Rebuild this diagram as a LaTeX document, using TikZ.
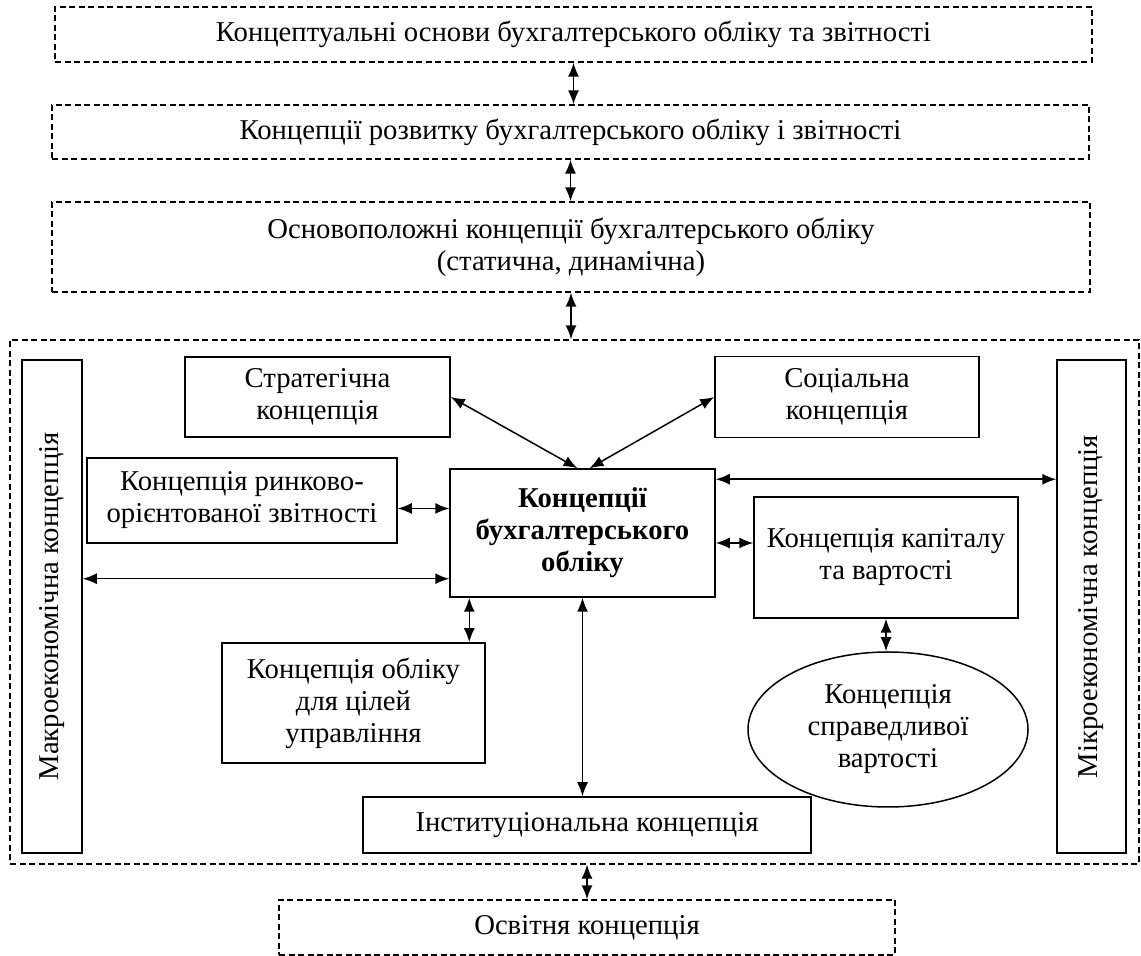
\documentclass[tikz,border=0pt]{standalone}
\usepackage{fontspec}
\setmainfont{Liberation Serif}
\usepackage{graphicx}
\usetikzlibrary{arrows.meta,shapes.geometric}

\begin{document}
\begin{tikzpicture}[x=1pt, y=1pt,
    every node/.style={font=\fontsize{28.7}{32}\selectfont, align=center, inner sep=0pt},
    box/.style={draw, line width=1.5pt},
    dbox/.style={draw, line width=1.3pt, dash pattern=on 6pt off 3.5pt},
    arr/.style={{Latex[length=14pt,width=11pt]}-{Latex[length=14pt,width=11pt]}, line width=1.5pt}]
        \useasboundingbox (0,0) rectangle (1141,956);
        % upper levels
        \node[dbox, minimum width=1037pt, minimum height=55pt] (osnovy) at (573.5,921.5) {Концептуальні основи бухгалтерського обліку та звітності};
        \node[dbox, minimum width=1037pt, minimum height=54pt] (rozvytok) at (570.5,824) {Концепції розвитку бухгалтерського обліку і звітності};
        \node[dbox, minimum width=1038pt, minimum height=90pt] (osnovopol) at (571,709) {Основоположні концепції бухгалтерського обліку\\(статична, динамічна)};
        \node[dbox, minimum width=1129pt, minimum height=524pt] (kompleks) at (574.5,354) {};
        \node[dbox, minimum width=616pt, minimum height=55pt] (osvitnia) at (587,28.5) {Освітня концепція};
        % inner concepts
        \node[box, minimum width=60pt, minimum height=493pt] (makro) at (52,349.5) {\rotatebox{90}{Макроекономічна концепція}};
        \node[box, minimum width=69pt, minimum height=493pt] (mikro) at (1091.5,349.5) {\rotatebox{90}{Мікроекономічна концепція}};
        \node[box, minimum width=265pt, minimum height=80pt] (strat) at (317.5,559) {Стратегічна\\концепція};
        \node[box, minimum width=264pt, minimum height=81pt] (sots) at (847,559) {Соціальна\\концепція};
        \node[box, minimum width=265pt, minimum height=128pt, font=\fontsize{28.7}{32}\selectfont\bfseries] (oblik) at (582.5,423) {Концепції\\бухгалтерського\\обліку};
        \node[box, minimum width=310pt, minimum height=85pt] (rynok) at (242,455.5) {Концепція ринково-\\орієнтованої звітності};
        \node[box, minimum width=264pt, minimum height=121pt] (kapital) at (886,398.5) {Концепція капіталу\\та вартості};
        \node[box, minimum width=263pt, minimum height=120pt] (upravl) at (353.5,253) {Концепція обліку\\для цілей\\управління};
        \node[draw, ellipse, line width=1.5pt, minimum width=280pt, minimum height=155pt] (spravedl) at (888,226.5) {Концепція\\справедливої\\вартості};
        \node[box, minimum width=448pt, minimum height=56pt] (instyt) at (587,131) {Інституціональна концепція};
        % links
        \draw[arr] (osnovy.south) -- (osnovy.south |- rozvytok.north);
        \draw[arr] (rozvytok.south) -- (rozvytok.south |- osnovopol.north);
        \draw[arr] (osnovopol.south) -- (osnovopol.south |- kompleks.north);
        \draw[arr] (kompleks.south -| osvitnia.north) -- (osvitnia.north);
        \draw[arr] (strat.east) -- ([xshift=-5pt]oblik.north);
        \draw[arr] (sots.west) -- ([xshift=7pt]oblik.north);
        \coordinate (a1) at ([yshift=-11pt]oblik.north east);
        \draw[arr] (a1) -- (a1 -| mikro.west);
        \coordinate (a2) at ([yshift=-8pt]rynok.east);
        \draw[arr] (a2) -- (a2 -| oblik.west);
        \coordinate (a3) at ([yshift=19pt]oblik.south west);
        \draw[arr] (a3 -| makro.east) -- (a3);
        \coordinate (a4) at ([yshift=-10pt]oblik.east);
        \draw[arr] (a4) -- (a4 -| kapital.west);
        \coordinate (a5) at ([xshift=20pt]oblik.south west);
        \draw[arr] (a5) -- (a5 |- upravl.north);
        \draw[arr] (oblik.south) -- (oblik.south |- instyt.north);
        \draw[arr] (kapital.south) -- (kapital.south |- spravedl.north);
\end{tikzpicture}
\end{document}
